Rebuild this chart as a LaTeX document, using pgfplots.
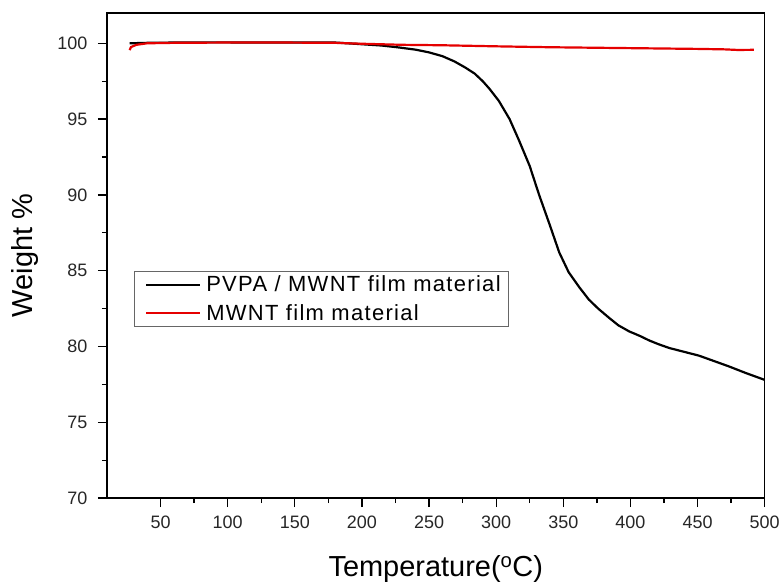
\documentclass[border=0pt]{standalone}
\usepackage{pgfplots}
\pgfplotsset{compat=1.18}
\usepackage{fontspec}
\setmainfont{Liberation Sans}
\newfontfamily\legfont[LetterSpace=6]{Liberation Sans}
\begin{document}
\begin{tikzpicture}
\begin{axis}[
    name=ax,
    scale only axis,
    width=659pt, height=486pt,
    xmin=10, xmax=500, ymin=70, ymax=102,
    xtick={50,100,...,500},
    ytick={70,75,...,100},
    minor x tick num=1,
    minor y tick num=1,
    tick align=outside,
    tick pos=left,
    major tick length=9pt,
    minor tick length=5pt,
    every tick/.style={black, line width=1.3pt},
    axis line style={line width=1.6pt},
    /pgf/number format/assume math mode=true,
    ticklabel style={font=\fontsize{18}{20}\selectfont, text=black!85},
    xticklabel style={yshift=-5pt},
    yticklabel style={xshift=-7pt},
    xlabel={Temperature(\textsuperscript{o}C)},
    ylabel={Weight \%},
    label style={font=\fontsize{29}{32}\selectfont},
    xlabel style={yshift=-20pt},
    ylabel style={yshift=12pt},
    legend style={at={(0.041,0.469)}, anchor=north west, draw=black!60,
        line width=0.8pt, font=\legfont\fontsize{22}{24}\selectfont,
        inner sep=3pt, row sep=7pt, nodes={inner xsep=5pt}},
    legend cell align=left,
    legend image code/.code={\path (0pt,0pt);
        \draw[#1, line width=2.2pt] (8pt,0pt) -- (62pt,0pt);},
]
\addplot[black, line width=2.2pt] coordinates {
(27,100.0) (40,100.03) (60,100.05) (80,100.06) (100,100.06) (117,100.05)
(140,100.05) (160,100.05) (180,100.05) (198,99.95) (215,99.85) (228,99.72)
(240,99.58) (250,99.40) (260,99.15) (269,98.80) (277,98.40) (284,98.0)
(290,97.5) (295,97.0) (302,96.2) (310,95.0) (317,93.6) (325,91.9)
(332,90.0) (340,88.0) (347,86.2) (354,84.9) (362,83.9) (369,83.1)
(376,82.5) (384,81.9) (391,81.4) (399,81.0) (407,80.7) (414,80.4)
(421,80.15) (429,79.9) (440,79.65) (451,79.4) (462,79.05) (473,78.7)
(486,78.25) (500,77.8)
};
\addlegendentry{PVPA / MWNT film material}
\addplot[red!90!black, line width=2.2pt] coordinates {
(27,99.55) (28,99.75) (32,99.9) (40,100.0) (60,100.03) (100,100.05)
(140,100.05) (180,100.03) (200,99.97) (230,99.9) (260,99.87) (300,99.8)
(340,99.74) (380,99.7) (420,99.66) (450,99.63) (470,99.6) (480,99.56)
(492,99.57)
};
\addlegendentry{MWNT film material}
\end{axis}
\path (ax.south west) ++(-107pt,-85pt);
\path (ax.north east) ++(17pt,13pt);
\end{tikzpicture}
\end{document}
